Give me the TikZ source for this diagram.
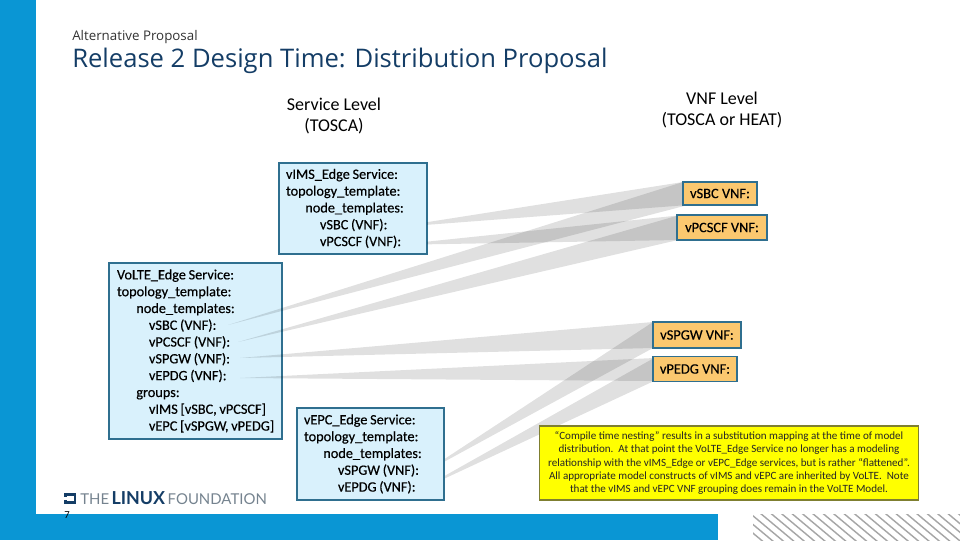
\documentclass[tikz,border=0pt]{standalone}
\usepackage{fontspec}
\setmainfont{Carlito}
\newfontfamily\semibold[FakeBold=0.35]{Carlito}
\newfontfamily\titlefont{Open Sans}
\newfontfamily\logofont{Lato}
\definecolor{lfblue}{HTML}{0A96D4}
\definecolor{boxblue}{HTML}{D9F1FC}
\definecolor{boxline}{HTML}{2F6F8F}
\definecolor{vnforange}{HTML}{FBC86F}
\definecolor{noteyellow}{HTML}{FFFF00}
\definecolor{noteline}{HTML}{7F7F30}
\definecolor{navy}{HTML}{143D66}
\definecolor{logogrey}{HTML}{75838F}
\tikzset{
  x=0.75pt,y=-0.75pt,
  svcbox/.style={draw=boxline,line width=0.8pt,fill=boxblue,inner xsep=0pt,inner ysep=0pt,
    text=black,font=\semibold\fontsize{10.7}{12.6}\selectfont,align=left},
  vnfbox/.style={draw=boxline,line width=1pt,fill=vnforange,inner sep=0pt,
    font=\semibold\fontsize{10.8}{12}\selectfont},
  notebox/.style={draw=noteline,line width=0.8pt,fill=noteyellow,inner sep=0pt,align=center,
    text=black!85,font=\fontsize{8.3}{10}\selectfont},
  wedge/.style={fill=black,fill opacity=0.12,draw=none},
  levellabel/.style={align=center,inner sep=0pt,font=\fontsize{13.5}{15.75}\selectfont},
}
\newcommand{\tightwords}{\spaceskip=.19em\relax}
\newcommand{\indA}{\hspace*{14.5pt}}
\newcommand{\indB}{\hspace*{24pt}}
\newcommand{\indC}{\hspace*{25.5pt}}
\begin{document}
\begin{tikzpicture}
\useasboundingbox (0,0) rectangle (960,540);
% frame
\fill[lfblue] (0,0) rectangle (36,514);
\fill[lfblue] (0,514) rectangle (718,540);
\begin{scope}
  \clip (753,514) rectangle (960,540);
  \foreach \k in {-8,...,30}
    \draw[gray!70,line width=1.1pt] (740+\k*10.4,505) -- ++(48,40);
\end{scope}
% titles
\node[anchor=west,inner sep=0pt,font=\titlefont\fontsize{10}{12}\selectfont,text=black!80] (sup) at (72,37) {Alternative Proposal};
\node[anchor=west,inner sep=0pt,font=\titlefont\fontsize{19.2}{23}\selectfont,text=navy] (title) at (72,60.5) {Release 2 Design Time: Distribution Proposal};
\node[levellabel] (svclevel) at (334,116) {Service Level\\(TOSCA)};
\node[levellabel] (vnflevel) at (722,110) {VNF Level\\(TOSCA or HEAT)};
% service boxes
\node[svcbox,minimum width=129.75pt,minimum height=132pt,text width=117.75pt] (volte) at (195.5,351) {\tightwords VoLTE\_Edge Service:\\
topology\_template:\\
\indA node\_templates:\\
\indB vSBC (VNF):\\
\indB vPCSCF (VNF):\\
\indB vSPGW (VNF):\\
\indB vEPDG (VNF):\\
\indA groups:\\
\indB \mbox{vIMS [vSBC, vPCSCF]}\\
\indB \mbox{vEPC [vSPGW, vPEDG]}};
\node[svcbox,minimum width=111pt,minimum height=68.25pt,text width=100.5pt] (vims) at (353,208.5) {\tightwords vIMS\_Edge Service:\\
topology\_template:\\
\indA node\_templates:\\
\indC vSBC (VNF):\\
\indC vPCSCF (VNF):};
\node[svcbox,minimum width=110.25pt,minimum height=69pt,text width=99.75pt] (vepc) at (370.5,454) {\tightwords vEPC\_Edge Service:\\
topology\_template:\\
\indA node\_templates:\\
\indC vSPGW (VNF):\\
\indC vEPDG (VNF):};
% wedge tips
\coordinate (t1) at (427,223.5);
\coordinate (t2) at (427,243);
\coordinate (t3) at (228,325);
\coordinate (t4) at (238,342);
\coordinate (t5) at (240,358);
\coordinate (t6) at (240,378);
\coordinate (t7) at (445,460);
\coordinate (t8) at (445,477);
% VNF box anchors (wide ends of the wedges)
\coordinate (sbcA) at (683,182);
\coordinate (sbcB) at (688,205);
\coordinate (pcsA) at (678,215.5);
\coordinate (pcsB) at (678,240);
\coordinate (spgA) at (653,322);
\coordinate (spgB) at (653,348);
\coordinate (pedA) at (654,358);
\coordinate (pedB) at (654,381);
\fill[wedge] ([yshift=1pt]t1) -- (sbcA) -- (sbcB) -- ([yshift=-1pt]t1) -- cycle;
\fill[wedge] (t3) -- (sbcA) -- (sbcB) -- cycle;
\fill[wedge] ([yshift=1pt]t2) -- (pcsA) -- (pcsB) -- ([yshift=-1pt]t2) -- cycle;
\fill[wedge] (t4) -- (pcsA) -- (pcsB) -- cycle;
\fill[wedge] (t5) -- (spgA) -- (spgB) -- cycle;
\fill[wedge] ([yshift=1pt]t7) -- (spgA) -- (spgB) -- ([yshift=-1pt]t7) -- cycle;
\fill[wedge] (t6) -- (pedA) -- (pedB) -- cycle;
\fill[wedge] ([yshift=1pt]t8) -- (pedA) -- (pedB) -- ([yshift=-1pt]t8) -- cycle;
% VNF boxes
\node[vnfbox,minimum width=55.5pt,minimum height=17.25pt] (vsbc) at (720,193.5) {vSBC VNF:};
\node[vnfbox,minimum width=67.5pt,minimum height=18.75pt] (vpcscf) at (722,227.5) {vPCSCF VNF:};
\node[vnfbox,minimum width=66pt,minimum height=19.5pt] (vspgw) at (697,335) {vSPGW VNF:};
\node[vnfbox,minimum width=63pt,minimum height=18.75pt] (vpedg) at (695,369) {vPEDG VNF:};
% note
\node[notebox,minimum width=284.25pt,minimum height=55.5pt] (note) at (729,463) {``Compile time nesting'' results in a substitution mapping at the time of model\\
distribution.\ \ At that point the VoLTE\_Edge Service no longer has a modeling\\
relationship with the vIMS\_Edge or vEPC\_Edge services, but is rather ``flattened''.\\
All appropriate model constructs of vIMS and vEPC are inherited by VoLTE.\ \ Note\\
that the vIMS and vEPC VNF grouping does remain in the VoLTE Model.};
% logo
\fill[navy] (64,492.5) rectangle (76,504);
\fill[white] (67,495.5) rectangle (73.5,501);
\fill[white] (64,497) rectangle (67,499.5);
\node[anchor=west,inner sep=0pt,font=\logofont\fontsize{11.2}{12}\selectfont,text=logogrey] (logo) at (80,498.3) {THE\,{\bfseries\fontsize{13.4}{12}\selectfont\color{navy}LINUX}\,FOUNDATION};
\node[font=\fontsize{8}{9}\selectfont,inner sep=0pt] (pagenum) at (67,515.5) {7};
\end{tikzpicture}
\end{document}
